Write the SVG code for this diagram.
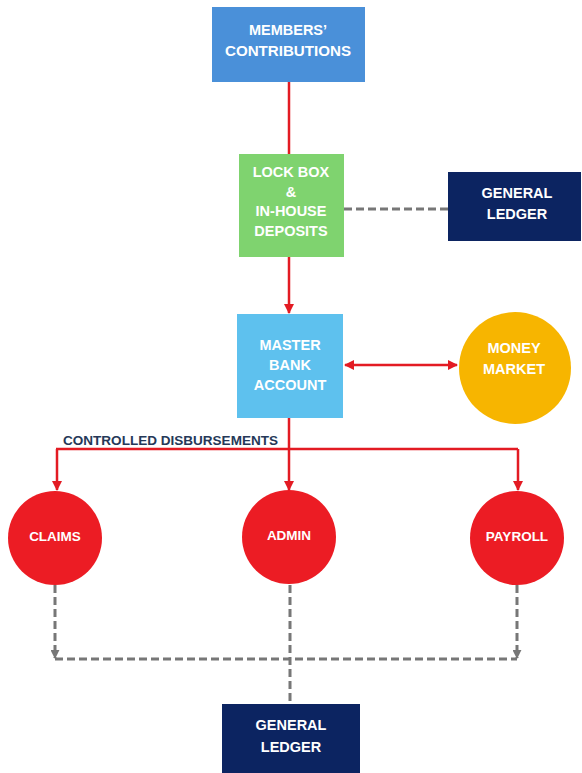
<svg xmlns="http://www.w3.org/2000/svg" width="582" height="773" viewBox="0 0 582 773">
<defs>
<style>
.t{font-family:"Liberation Sans",Arial,sans-serif;font-weight:bold;font-size:14.5px;fill:#ffffff;text-anchor:middle}
.c{font-size:13.5px}
.lbl{font-family:"Liberation Sans",Arial,sans-serif;font-weight:bold;font-size:13.5px;fill:#253858}
.red{fill:none;stroke:#e31b23;stroke-width:2.5}
.dash{fill:none;stroke:#777777;stroke-width:3;stroke-dasharray:8 4}
</style>
<marker id="ar" viewBox="0 0 10 10" refX="9" refY="5" markerWidth="4" markerHeight="4" orient="auto-start-reverse" markerUnits="strokeWidth">
<path d="M0,0 L10,5 L0,10 z" fill="#e31b23"/>
</marker>
<marker id="ag" viewBox="0 0 10 10" refX="9" refY="5" markerWidth="3" markerHeight="3" orient="auto" markerUnits="strokeWidth">
<path d="M0,0 L10,5 L0,10 z" fill="#777777"/>
</marker>
</defs>
<rect width="582" height="773" fill="#ffffff"/>
<g id="connectors">
<path class="red" d="M289,82 V154"/>
<path class="red" d="M289,257 V313" marker-end="url(#ar)"/>
<path class="red" d="M345,365 H457" marker-start="url(#ar)" marker-end="url(#ar)"/>
<path class="red" d="M289,418 V490" marker-end="url(#ar)"/>
<path class="red" d="M56,449 H518"/>
<path class="red" d="M57,449 V490" marker-end="url(#ar)"/>
<path class="red" d="M518,449 V490" marker-end="url(#ar)"/>
<path class="dash" d="M344,209 H448"/>
<path class="dash" d="M55,585 V658" marker-end="url(#ag)"/>
<path class="dash" d="M517,585 V658" marker-end="url(#ag)"/>
<path class="dash" d="M55,659 H517"/>
<path class="dash" d="M290,585 V704"/>
<text class="lbl" x="63" y="445" textLength="215" lengthAdjust="spacingAndGlyphs">CONTROLLED DISBURSEMENTS</text>
</g>
<g id="members">
<rect x="212" y="7" width="153" height="75" fill="#4a90d9"/>
<text class="t" x="288" y="35">MEMBERS’</text>
<text class="t" x="288" y="56" textLength="126" lengthAdjust="spacingAndGlyphs">CONTRIBUTIONS</text>
</g>
<g id="lockbox">
<rect x="239" y="154" width="105" height="103" fill="#7fd36f"/>
<text class="t" x="291" y="177">LOCK BOX</text>
<text class="t" x="291" y="197">&amp;</text>
<text class="t" x="291" y="216">IN-HOUSE</text>
<text class="t" x="291" y="236">DEPOSITS</text>
</g>
<g id="ledger-top">
<rect x="448" y="172" width="133" height="69" fill="#0c2461"/>
<text class="t" x="517" y="198">GENERAL</text>
<text class="t" x="517" y="219">LEDGER</text>
</g>
<g id="master">
<rect x="237" y="314" width="106" height="104" fill="#5ec1ee"/>
<text class="t" x="290" y="350">MASTER</text>
<text class="t" x="290" y="370">BANK</text>
<text class="t" x="290" y="390">ACCOUNT</text>
</g>
<g id="money">
<circle cx="515" cy="368" r="56" fill="#f7b500"/>
<text class="t" x="514" y="353">MONEY</text>
<text class="t" x="514" y="374">MARKET</text>
</g>
<g id="claims">
<circle cx="55" cy="538" r="47" fill="#ec1c24"/>
<text class="t c" x="55" y="541">CLAIMS</text>
</g>
<g id="admin">
<circle cx="289" cy="537" r="47" fill="#ec1c24"/>
<text class="t c" x="289" y="540">ADMIN</text>
</g>
<g id="payroll">
<circle cx="517" cy="538" r="47" fill="#ec1c24"/>
<text class="t c" x="517" y="541">PAYROLL</text>
</g>
<g id="ledger-bottom">
<rect x="222" y="704" width="138" height="69" fill="#0c2461"/>
<text class="t" x="291" y="730">GENERAL</text>
<text class="t" x="291" y="752">LEDGER</text>
</g>
</svg>
